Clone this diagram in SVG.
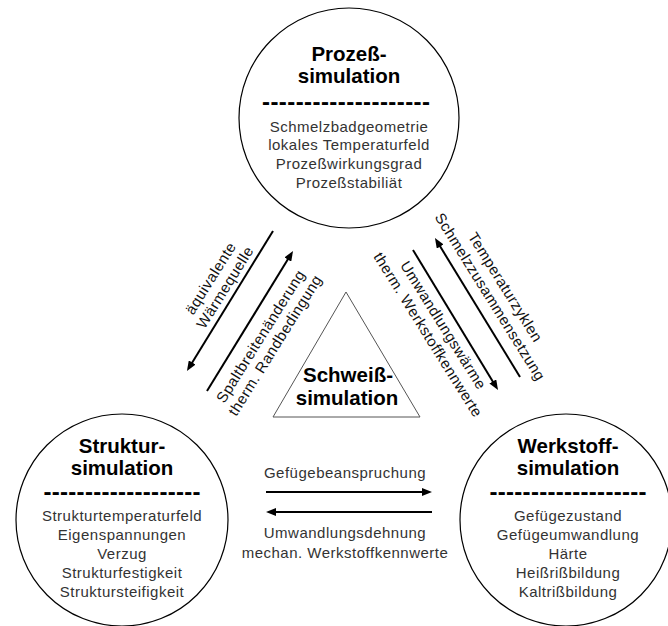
<svg xmlns="http://www.w3.org/2000/svg" width="668" height="626" viewBox="0 0 668 626">
<style>
  .circ { fill: #fff; stroke: #000; stroke-width: 1.2; }
  .tri { fill: #fff; stroke: #555; stroke-width: 1; }
  .title { font-family: "Liberation Sans", Arial, sans-serif; font-size: 20.5px; font-weight: bold; fill: #000; text-anchor: middle; }
  .dash { font-family: "Liberation Sans", Arial, sans-serif; font-size: 24px; font-weight: bold; fill: #000; text-anchor: middle; }
  .item { font-family: "Liberation Sans", Arial, sans-serif; font-size: 15px; letter-spacing: 0.5px; fill: #333; text-anchor: middle; }
  .lbl { font-family: "Liberation Sans", Arial, sans-serif; font-size: 15px; letter-spacing: 0.5px; fill: #111; text-anchor: middle; }
  .arr { stroke: #000; stroke-width: 2; fill: none; marker-end: url(#ah); }
</style>
<defs>
  <marker id="ah" viewBox="0 0 10 8" refX="4" refY="4" markerWidth="10" markerHeight="8" markerUnits="userSpaceOnUse" orient="auto">
    <path d="M0,0 L10,4 L0,8 z" fill="#000"/>
  </marker>
</defs>
<rect width="668" height="626" fill="#fff"/>

<g id="node-prozess">
  <circle class="circ" cx="349" cy="118" r="110"/>
  <text class="title" x="349" y="61">Prozeß-</text>
  <text class="title" x="349" y="83">simulation</text>
  <text class="dash" x="346" y="110" textLength="168" lengthAdjust="spacing">--------------------</text>
  <text class="item" x="349" y="132">Schmelzbadgeometrie</text>
  <text class="item" x="349" y="150">lokales Temperaturfeld</text>
  <text class="item" x="349" y="169">Prozeßwirkungsgrad</text>
  <text class="item" x="349" y="188">Prozeßstabiliät</text>
</g>

<g id="node-struktur">
  <circle class="circ" cx="122" cy="520" r="106"/>
  <text class="title" x="122" y="453">Struktur-</text>
  <text class="title" x="122" y="475">simulation</text>
  <text class="dash" x="122" y="500" textLength="157" lengthAdjust="spacing">-------------------</text>
  <text class="item" x="122" y="521">Strukturtemperaturfeld</text>
  <text class="item" x="122" y="540">Eigenspannungen</text>
  <text class="item" x="122" y="559">Verzug</text>
  <text class="item" x="122" y="578">Strukturfestigkeit</text>
  <text class="item" x="122" y="597">Struktursteifigkeit</text>
</g>

<g id="node-werkstoff">
  <circle class="circ" cx="566" cy="520" r="106"/>
  <text class="title" x="568" y="453">Werkstoff-</text>
  <text class="title" x="568" y="475">simulation</text>
  <text class="dash" x="568" y="500" textLength="157" lengthAdjust="spacing">-------------------</text>
  <text class="item" x="568" y="521">Gefügezustand</text>
  <text class="item" x="568" y="540">Gefügeumwandlung</text>
  <text class="item" x="568" y="559">Härte</text>
  <text class="item" x="568" y="578">Heißrißbildung</text>
  <text class="item" x="568" y="597">Kaltrißbildung</text>
</g>

<g id="node-schweiss">
  <polygon class="tri" points="346,292 273,417 420,417"/>
  <text class="title" x="348" y="382">Schweiß-</text>
  <text class="title" x="347" y="405">simulation</text>
</g>

<g id="connectors">
  <line class="arr" x1="273" y1="231" x2="190.1" y2="365.9"/>
  <line class="arr" x1="207" y1="391" x2="289.9" y2="256.1"/>
  <line class="arr" x1="520" y1="377" x2="438.1" y2="243.1"/>
  <line class="arr" x1="413" y1="250" x2="494.9" y2="384.9"/>
  <line class="arr" x1="266" y1="492" x2="426" y2="492"/>
  <line class="arr" x1="432" y1="512" x2="272" y2="512"/>

  <g transform="translate(215,281) rotate(-58)">
    <text class="lbl" x="0" y="0">äquivalente</text>
    <text class="lbl" x="0" y="17">Wärmequelle</text>
  </g>
  <g transform="translate(265,339) rotate(-58)">
    <text class="lbl" x="0" y="0">Spaltbreitenänderung</text>
    <text class="lbl" x="0" y="17">therm. Randbedingung</text>
  </g>
  <g transform="translate(501,290) rotate(58)">
    <text class="lbl" x="0" y="0">Temperaturzyklen</text>
    <text class="lbl" x="0" y="18">Schmelzzusammensetzung</text>
  </g>
  <g transform="translate(439,328) rotate(58)">
    <text class="lbl" x="0" y="0">Umwandlungswärme</text>
    <text class="lbl" x="0" y="18">therm. Werkstoffkennwerte</text>
  </g>
  <text class="item" x="345" y="478">Gefügebeanspruchung</text>
  <text class="item" x="345" y="538">Umwandlungsdehnung</text>
  <text class="item" x="345" y="558">mechan. Werkstoffkennwerte</text>
</g>
</svg>
